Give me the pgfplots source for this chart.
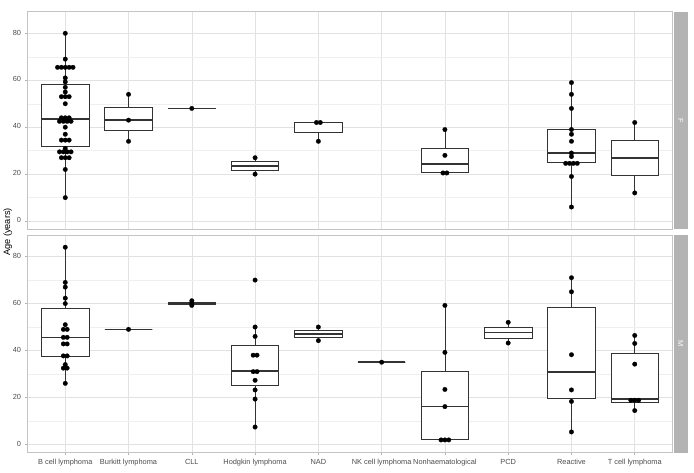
\documentclass[border=0pt]{standalone}
\usepackage{fontspec}
\setmainfont{Liberation Sans}
\usepackage{pgfplots}
\pgfplotsset{compat=1.18}
\usepgfplotslibrary{statistics}
\definecolor{stripgray}{HTML}{B3B3B3}
\definecolor{bordercol}{HTML}{C4C4C4}
\definecolor{gridmaj}{HTML}{E2E2E2}
\definecolor{gridmin}{HTML}{EFEFEF}
\definecolor{tickgray}{HTML}{4D4D4D}
\definecolor{boxcol}{HTML}{333333}
\newcommand{\bx}[6]{\addplot[bxstyle, boxplot prepared={draw direction=y, draw position=#1, lower whisker=#2, lower quartile=#3, median=#4, upper quartile=#5, upper whisker=#6}] coordinates {};}
\pgfplotsset{
  boxplot/every median/.style={line width=1.6pt},
  boxplot/every box/.style={fill=white},
  panel/.style={
    scale only axis, width=645.4pt, height=217.6pt,
    xmin=0.4, xmax=10.6, ymin=-3.5, ymax=89.2,
    xtick={1,...,10}, ytick={0,20,40,60,80}, minor ytick={10,30,50,70},
    grid=both,
    major grid style={color=gridmaj, line width=0.55pt},
    minor grid style={color=gridmin, line width=0.35pt},
    axis line style={color=bordercol, line width=0.7pt},
    tick align=outside, xtick pos=bottom, ytick pos=left,
    major tick length=2.7pt, minor tick length=0pt,
    tick style={color=stripgray, line width=0.5pt},
    ticklabel style={font=\fontsize{7.4}{8.5}\selectfont, color=tickgray},
    typeset ticklabels with strut,
    /pgf/number format/assume math mode=true,
    clip=false,
  },
  bxstyle/.style={draw=boxcol, line width=0.7pt,
    boxplot/box extend=0.75, boxplot/whisker extend=0},
  dots/.style={only marks, mark=*, mark size=2.3pt, black, mark options={fill=black, draw=black, line width=0.2pt}},
}
\begin{document}
\begin{tikzpicture}
\useasboundingbox (0,0) rectangle (694pt,-472pt);
% ---------------- F panel ----------------
\begin{axis}[panel, at={(27.3pt,-11.7pt)}, anchor=north west,
  xticklabels={}, xtick style={draw=none}]
\bx{1}{10}{31.8}{43.6}{58.4}{80}
\bx{2}{34}{38.5}{43}{48.5}{54}
\bx{3}{48}{48}{48}{48}{48}
\bx{4}{20}{21.75}{23.5}{25.25}{27}
\bx{5}{34}{38}{42}{42}{42}
\bx{7}{20.5}{20.7}{24.4}{30.8}{39}
\bx{9}{6}{25}{29}{39}{59}
\bx{10}{12}{19.5}{27}{34.5}{42}
\addplot[dots] coordinates {
(1,80) (1,69)
(0.878,65.5) (0.939,65.5) (1,65.5) (1.061,65.5) (1.122,65.5)
(1,61) (1,59.3) (1,57) (1,55)
(0.939,53) (1,53) (1.061,53)
(1,50)
(0.939,44) (1,44) (1.061,44)
(0.909,42.5) (0.970,42.5) (1.030,42.5) (1.091,42.5)
(1,40) (1,37)
(0.939,34.5) (1,34.5) (1.061,34.5)
(1,31)
(0.909,29.5) (0.970,29.5) (1.030,29.5) (1.091,29.5)
(0.939,27) (1,27) (1.061,27)
(1,22) (1,10)
(2,54) (2,43) (2,34)
(3,48)
(4,27) (4,20)
(4.970,42) (5.030,42) (5,34)
(7,39) (7,28) (6.970,20.5) (7.030,20.5)
(9,59) (9,54) (9,48) (9,39) (9,37) (9,34) (9,29) (9,27.5)
(8.909,24.6) (8.970,24.6) (9.030,24.6) (9.091,24.6)
(9,19) (9,6)
(10,42) (10,12)
};
\end{axis}
% ---------------- M panel ----------------
\begin{axis}[panel, at={(27.3pt,-235pt)}, anchor=north west,
  xticklabels={B cell lymphoma, Burkitt lymphoma, CLL, Hodgkin lymphoma, NAD, NK cell lymphoma, Nonhaematological, PCD, Reactive, T cell lymphoma}]
\bx{1}{26}{37.5}{45.6}{57.8}{84}
\bx{2}{49}{49}{49}{49}{49}
\bx{3}{59.2}{59.7}{60.2}{60.7}{61.2}
\bx{4}{7.4}{25.2}{31.3}{42.2}{50}
\bx{5}{44.2}{45.6}{47.1}{48.6}{50}
\bx{6}{35}{35}{35}{35}{35}
\bx{7}{1.9}{2.2}{16.1}{31.3}{59.2}
\bx{8}{43.2}{45.3}{47.7}{49.9}{52}
\bx{9}{5.3}{19.5}{30.9}{58.5}{71}
\bx{10}{14.4}{18.1}{19.3}{38.8}{46.4}
\addplot[dots] coordinates {
(1,84) (1,69) (1,67) (1,62.3) (1,60) (1,51)
(0.970,49) (1.030,49) (0.970,45.6) (1.030,45.6)
(0.970,42.8) (1.030,42.8) (0.970,37.7) (1.030,37.7)
(1,34) (0.970,32.5) (1.030,32.5) (1,26)
(2,49)
(3,59.2) (3,60.2) (3,61.2)
(4,70) (4,50) (4,46) (3.970,38) (4.030,38) (3.970,31) (4.030,31)
(4,27.3) (4,23.2) (4,19.3) (4,7.4)
(5,50) (5,44.2)
(6,35)
(7,59.2) (7,39.2) (7,23.4) (7,16.1) (6.939,1.9) (7,1.9) (7.061,1.9)
(8,52) (8,43.2)
(9,71) (9,65) (9,38.2) (9,23.2) (9,18.3) (9,5.3)
(10,46.4) (10,43) (10,34.2) (9.939,18.8) (10,18.8) (10.061,18.8) (10,14.4)
};
\end{axis}
% strips
\fill[stripgray] (673.6pt,-11.7pt) rectangle (687.7pt,-229.3pt);
\fill[stripgray] (673.6pt,-235pt) rectangle (687.7pt,-452.6pt);
\node[rotate=-90, text=white, font=\fontsize{7.4}{8.5}\selectfont] at (680.65pt,-120.5pt) {F};
\node[rotate=-90, text=white, font=\fontsize{7.4}{8.5}\selectfont] at (680.65pt,-343.8pt) {M};
% y title
\node[rotate=90, font=\fontsize{9.2}{11}\selectfont] at (7.8pt,-232pt) {Age (years)};
\end{tikzpicture}
\end{document}
